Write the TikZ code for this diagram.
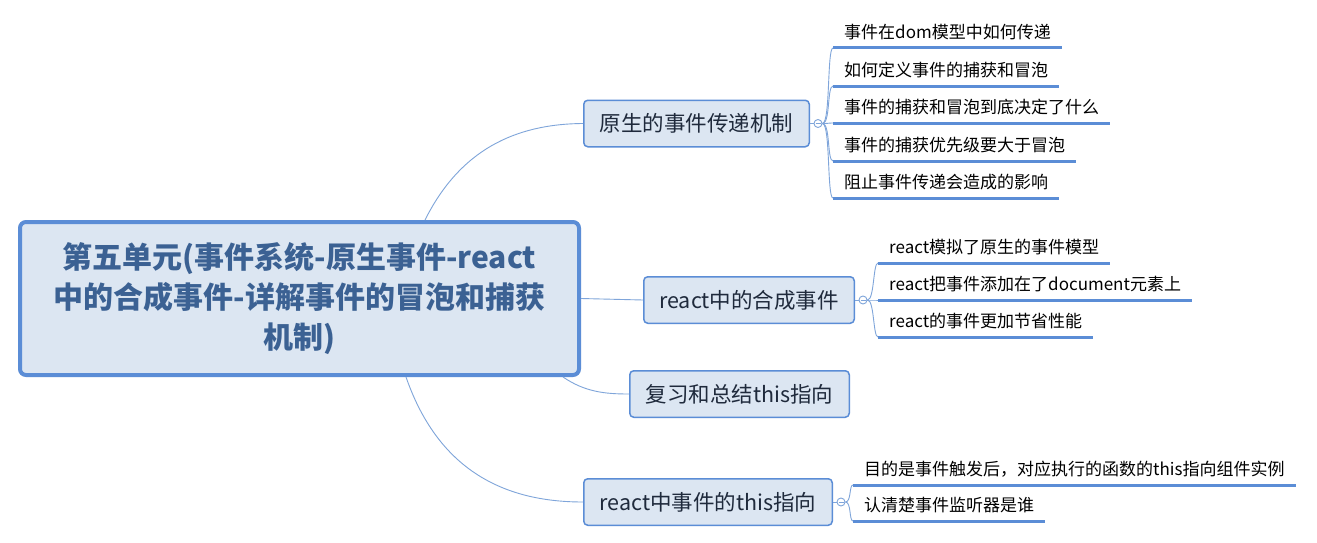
\documentclass[tikz,border=0pt]{standalone}
\usepackage{fontspec}
\setmainfont{Noto Sans CJK SC}
\usetikzlibrary{calc}
\definecolor{bord}{HTML}{5B8DD6}
\definecolor{boxfill}{HTML}{DCE6F2}
\definecolor{connc}{HTML}{7FA5DA}
\definecolor{roottext}{HTML}{3B6193}
\definecolor{branchtext}{HTML}{1F2A3C}
\begin{document}
\begin{tikzpicture}[x=1pt,y=-1pt,
  rootbox/.style={draw=bord, line width=4pt, fill=boxfill, rounded corners=6pt,
    minimum width=559pt, minimum height=153pt, align=center, text=roottext,
    font=\fontsize{30}{40}\selectfont\bfseries},
  branchbox/.style={draw=bord, line width=1.5pt, fill=boxfill, rounded corners=4pt,
    minimum height=46.5pt, inner sep=0pt, text=branchtext,
    font=\fontsize{21.5}{26}\selectfont},
  leaf/.style={anchor=south west, inner xsep=11pt, inner ysep=4.5pt,
    text height=13pt, text depth=5pt, font=\fontsize{17}{20}\selectfont},
  uline/.style={draw=bord, line width=3pt},
  connline/.style={draw=connc, line width=0.9pt},
  collapse/.style={circle, draw=connc, fill=white, line width=0.9pt, inner sep=0pt,
    minimum size=8pt,
    path picture={\draw[connc, line width=0.8pt]
      ([xshift=-2.5pt]path picture bounding box.center) --
      ([xshift=2.5pt]path picture bounding box.center);}}
]
\useasboundingbox[fill=white] (0,0) rectangle (1317,543);

% root
\node[rootbox] (root) at (299.5,298.5)
  {第五单元(事件系统-原生事件-react\\中的合成事件-详解事件的冒泡和捕获\\机制)};

% branches
\node[branchbox, minimum width=225.5pt] (b1) at (696.5,123.5) {原生的事件传递机制};
\node[branchbox, minimum width=210.5pt] (b2) at (749,300) {react中的合成事件};
\node[branchbox, minimum width=219.5pt] (b3) at (739.5,394) {复习和总结this指向};
\node[branchbox, minimum width=248.5pt] (b4) at (708,502) {react中事件的this指向};

% root anchors
\coordinate (r1) at ([xshift=407pt]root.north west);
\coordinate (r2) at (root.east);
\coordinate (r3) at ([xshift=545pt]root.south west);
\coordinate (r4) at ([xshift=388pt]root.south west);

\begin{scope}[on background layer/.style={}]
\draw[connline] (r1) .. controls (460,150) and (515,124) .. (b1.west);
\draw[connline] (r2) -- (b2.west);
\draw[connline] (r3) .. controls (585,392) and (605,394) .. (b3.west);
\draw[connline] (r4) .. controls (440,475) and (510,502) .. (b4.west);
\end{scope}

% collapse markers
\node[collapse] (c1) at ([xshift=8pt]b1.east) {};
\node[collapse] (c2) at ([xshift=8pt]b2.east) {};
\node[collapse] (c4) at ([xshift=8pt]b4.east) {};
\draw[connline] (b1.east) -- (c1.west);
\draw[connline] (b2.east) -- (c2.west);
\draw[connline] (b4.east) -- (c4.west);

% leaves of branch 1
\node[leaf] (l11) at (833,48) {事件在dom模型中如何传递};
\node[leaf] (l12) at (833,86) {如何定义事件的捕获和冒泡};
\node[leaf] (l13) at (833,123) {事件的捕获和冒泡到底决定了什么};
\node[leaf] (l14) at (833,161) {事件的捕获优先级要大于冒泡};
\node[leaf] (l15) at (833,198) {阻止事件传递会造成的影响};
\foreach \l in {l11,l12,l13,l14,l15}{
  \draw[connline] (c1.east) .. controls +(8,0) and +(-6,0) .. (\l.south west);
  \draw[uline] (\l.south west) -- (\l.south east);
}

% leaves of branch 2
\node[leaf] (l21) at (878,263) {react模拟了原生的事件模型};
\node[leaf] (l22) at (878,300) {react把事件添加在了document元素上};
\node[leaf] (l23) at (878,337) {react的事件更加节省性能};
\foreach \l in {l21,l22,l23}{
  \draw[connline] (c2.east) .. controls +(7,0) and +(-5,0) .. (\l.south west);
  \draw[uline] (\l.south west) -- (\l.south east);
}

% leaves of branch 4
\node[leaf] (l41) at (853,485) {目的是事件触发后，对应执行的函数的this指向组件实例};
\node[leaf] (l42) at (853,521) {认清楚事件监听器是谁};
\foreach \l in {l41,l42}{
  \draw[connline] (c4.east) .. controls +(6,0) and +(-4,0) .. (\l.south west);
  \draw[uline] (\l.south west) -- (\l.south east);
}
\end{tikzpicture}
\end{document}
